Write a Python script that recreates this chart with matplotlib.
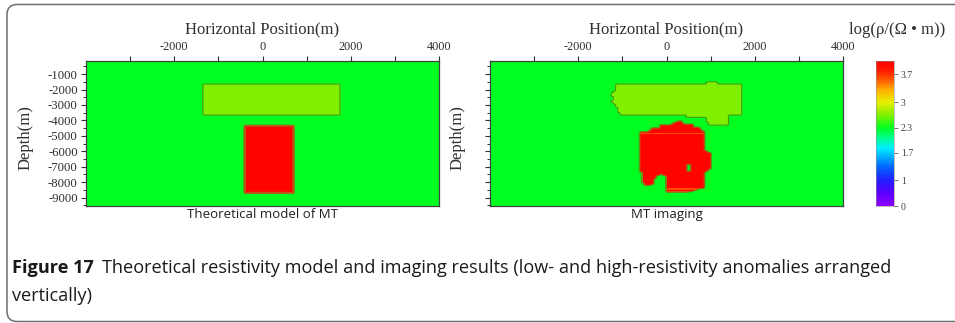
import numpy as np
import matplotlib
matplotlib.use("Agg")
import matplotlib.pyplot as plt
from matplotlib.colors import LinearSegmentedColormap, FuncNorm
from matplotlib.path import Path
from matplotlib.patches import FancyBboxPatch

plt.rcParams["axes.unicode_minus"] = False

# ---------------------------------------------------------------- data
# section extent (m)
x_range = (-4000, 4000)
depth_range = (-9550, -150)
cell = 50

background_log_rho = 2.3

# theoretical model blocks: x_left, x_right, z_bottom, z_top, log10(rho)
model_blocks = [
    (-1330, 1730, -3650, -1650, 2.65),
    (-380, 690, -8720, -4360, 4.0),
]

# MT imaging result: outline of the recovered low-resistivity body
imaging_low_x = [-1145, 880, 900, 1120, 1140, 1712, 1712, 1420, 1400, 940,
                 900, 460, 440, -1054, -1100, -1145, -1240, -1200, -1280, -1150]
imaging_low_z = [-1650, -1650, -1480, -1480, -1650, -1650, -3650, -3650, -4300, -4300,
                 -3780, -3780, -3650, -3650, -3350, -3000, -2800, -2500, -2300, -2050]
imaging_low_value = 2.65

# outline of the recovered high-resistivity body
imaging_high_x = [-578, -380, -370, -150, -140, 120, 130, 306, 380, 400, 580, 600,
                  760, 780, 873, 873, 986, 986, 873, 873, 760, 465, 11, 11, -147,
                  -260, -306, -487, -556, -578, -601]
imaging_high_z = [-4770, -4770, -4520, -4520, -4320, -4320, -4190, -3990, -4190, -4250,
                  -4250, -4450, -4450, -4640, -4770, -5940, -6140, -7110, -7370, -8350,
                  -8420, -8675, -8675, -7630, -7500, -7630, -8150, -8220, -7900, -7240,
                  -5940]
imaging_high_value = 4.0

# background-valued window inside the high-resistivity body: x0, x1, z0, z1
imaging_hole = (458, 571, -7310, -6870)

# lower-valued layers inside the high-resistivity body: x0, x1, z0, z1, log10(rho)
imaging_bands = [
    (-150, 600, -4450, -4380, 3.6),
    (-585, 941, -4880, -4810, 3.6),
    (5, 873, -8480, -8420, 3.6),
    (5, 500, -8680, -8620, 3.6),
]

# colour scale
cbar_ticks = [0, 1, 1.7, 2.3, 3, 3.7]
cbar_tick_labels = ["0", "1", "1.7", "2.3", "3", "3.7"]
cbar_anchor_values = [0, 1, 1.7, 2.3, 3, 3.7, 4.03]
cbar_anchor_pos = [0, 0.179, 0.366, 0.538, 0.717, 0.910, 1.0]

# ---------------------------------------------------------------- grids
xc = np.arange(x_range[0] + cell / 2, x_range[1], cell)
zc = np.arange(depth_range[0] + cell / 2, depth_range[1], cell)
X, Z = np.meshgrid(xc, zc)
pts = np.column_stack([X.ravel(), Z.ravel()])


def rect_mask(x0, x1, z0, z1):
    return (X >= x0) & (X <= x1) & (Z >= z0) & (Z <= z1)


def poly_mask(xs, zs):
    path = Path(np.column_stack([xs, zs]))
    return path.contains_points(pts).reshape(X.shape)


model = np.full(X.shape, background_log_rho)
for x0, x1, z0, z1, v in model_blocks:
    model[rect_mask(x0, x1, z0, z1)] = v

imaging = np.full(X.shape, background_log_rho)
imaging[poly_mask(imaging_low_x, imaging_low_z)] = imaging_low_value
high = poly_mask(imaging_high_x, imaging_high_z)
imaging[high] = imaging_high_value
for x0, x1, z0, z1, v in imaging_bands:
    imaging[high & rect_mask(x0, x1, z0, z1)] = v
imaging[rect_mask(*imaging_hole)] = background_log_rho

# ---------------------------------------------------------------- colour map
cmap = LinearSegmentedColormap.from_list(
    "resistivity",
    [(0.00, "#8c00ff"), (0.09, "#5a00ff"), (0.179, "#2020ff"), (0.28, "#0070ff"),
     (0.40, "#00f0ff"), (0.47, "#00ff90"), (0.538, "#00ff20"), (0.627, "#80f000"),
     (0.717, "#e8f000"), (0.80, "#ffb000"), (0.87, "#ff5a00"), (0.94, "#ff1800"),
     (1.00, "#ff0000")])


def _fwd(v):
    return np.interp(v, cbar_anchor_values, cbar_anchor_pos)


def _inv(p):
    return np.interp(p, cbar_anchor_pos, cbar_anchor_values)


norm = FuncNorm((_fwd, _inv), vmin=cbar_anchor_values[0], vmax=cbar_anchor_values[-1])

# ---------------------------------------------------------------- figure
W, H = 955, 323
fig = plt.figure(figsize=(W / 100, H / 100), dpi=100)
fig.patch.set_facecolor("white")


def px_axes(left, top, right, bottom):
    return fig.add_axes([left / W, 1 - bottom / H, (right - left) / W, (bottom - top) / H])


serif = "Liberation Serif"
sans = "Open Sans"
ink = "#303030"

ax_l = px_axes(86, 61, 439, 206)
ax_r = px_axes(490, 61, 843, 206)
cax = px_axes(876, 61, 894, 206)

extent = (x_range[0], x_range[1], depth_range[0], depth_range[1])

for ax, grid, interp, titles, show_labels in [
    (ax_l, model, "bilinear", "Theoretical model of MT", True),
    (ax_r, imaging, "nearest", "MT imaging", False),
]:
    im = ax.imshow(grid, origin="lower", extent=extent, aspect="auto", cmap=cmap,
                   norm=norm, interpolation=interp, interpolation_stage="rgba")
    lw_hi = 1.6 if ax is ax_l else 0.6
    ax.contour(xc, zc, grid, levels=[2.45], colors="#4f9c12", linewidths=0.8)
    ax.contour(xc, zc, grid, levels=[3.2], colors="#c4501c", linewidths=lw_hi, alpha=0.85)
    ax.set_xlim(*x_range)
    ax.set_ylim(*depth_range)

    ax.xaxis.tick_top()
    ax.set_xticks([-2000, 0, 2000, 4000])
    ax.set_xticks([-3000, -1000, 1000, 3000], minor=True)
    ax.set_yticks(np.arange(-9000, 0, 1000))
    ax.set_yticks(np.arange(-9500, 0, 1000), minor=True)
    ax.tick_params(axis="x", which="both", direction="out", length=3.5, width=0.8,
                   color=ink, labelsize=8.8, labelcolor=ink, pad=2.5, bottom=False)
    ax.tick_params(axis="y", which="major", direction="out", length=3.5, width=0.8,
                   color=ink, labelsize=9.2, labelcolor=ink, pad=2.5, labelleft=show_labels)
    ax.tick_params(axis="y", which="minor", direction="out", length=2, width=0.7, color=ink)
    for lab in ax.get_xticklabels() + ax.get_yticklabels():
        lab.set_fontfamily(serif)
    for sp in ax.spines.values():
        sp.set_color("#404040")
        sp.set_linewidth(0.9)

    ax.set_xlabel("Horizontal Position(m)", fontfamily=serif, fontsize=12, color=ink)
    ax.xaxis.set_label_position("top")
    ax.xaxis.set_label_coords(0.5, 1.19)
    ax.set_ylabel("Depth(m)", fontfamily=serif, fontsize=12, color=ink)
    ax.yaxis.set_label_coords(-0.15 if show_labels else -0.068, 0.47)
    ax.text(0.5, -0.062, titles, transform=ax.transAxes, ha="center", va="center",
            fontfamily=sans, fontsize=9.5, color="#202020")

cb = fig.colorbar(im, cax=cax)
cb.set_ticks(cbar_ticks)
cb.set_ticklabels(cbar_tick_labels)
cb.ax.tick_params(length=3, width=0.6, color="#606060", labelsize=7, labelcolor="#404040", pad=2)
for lab in cb.ax.get_yticklabels():
    lab.set_fontfamily(serif)
cb.outline.set_linewidth(0.4)
cb.outline.set_edgecolor("#909090")
cb.ax.minorticks_off()

fig.text(897 / W, 1 - 30 / H, "log(ρ/(Ω • m))", ha="center", va="center",
         fontfamily=serif, fontsize=12, color=ink)

# caption
cap_size = 13.1
renderer = fig.canvas.get_renderer()
cap_bold = fig.text(12 / W, 1 - 268 / H, "Figure 17", ha="left", va="center",
                    fontfamily=sans, fontweight="bold", fontsize=cap_size, color="#1a1a1a")
bb = cap_bold.get_window_extent(renderer)
fig.text((bb.x1 + 8) / W, 1 - 268 / H,
         "Theoretical resistivity model and imaging results (low- and high-resistivity anomalies arranged",
         ha="left", va="center", fontfamily=sans, fontsize=cap_size, color="#1a1a1a")
fig.text(12 / W, 1 - 296 / H, "vertically)", ha="left", va="center",
         fontfamily=sans, fontsize=cap_size, color="#1a1a1a")

# rounded frame around the figure panel
frame = FancyBboxPatch((7, 1.5), 990, 317, boxstyle="round,pad=0,rounding_size=10",
                       transform=None, facecolor="none", edgecolor="#6e6e6e", linewidth=1.1)
fig.patches.append(frame)

fig.savefig("out.png", dpi=100)
